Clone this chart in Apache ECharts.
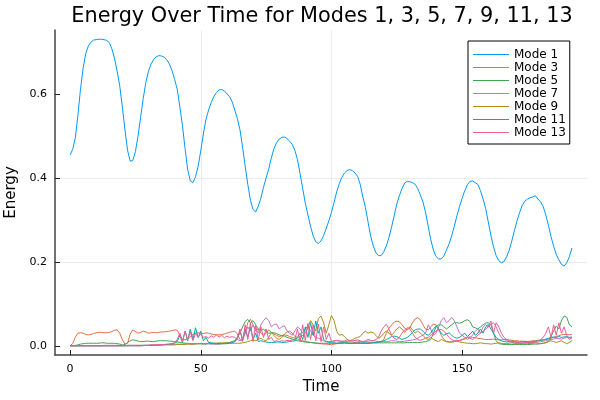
<!DOCTYPE html>
<html>
<head>
<meta charset="utf-8">
<script src="https://cdn.jsdelivr.net/npm/echarts@6/dist/echarts.min.js"></script>
<style>html,body{margin:0;padding:0;background:#fff}#c{width:600px;height:400px}</style>
</head>
<body>
<div id="c"></div>
<script>
const time = [0,1,2,3,4,5,6,7,8,9,10,11,12,13,14,15,16,17,18,19,20,21,22,23,24,25,26,27,28,29,30,31,32,33,34,35,36,37,38,39,40,41,42,43,44,45,46,47,48,49,50,51,52,53,54,55,56,57,58,59,60,61,62,63,64,65,66,67,68,69,70,71,72,73,74,75,76,77,78,79,80,81,82,83,84,85,86,87,88,89,90,91,92,93,94,95,96,97,98,99,100,101,102,103,104,105,106,107,108,109,110,111,112,113,114,115,116,117,118,119,120,121,122,123,124,125,126,127,128,129,130,131,132,133,134,135,136,137,138,139,140,141,142,143,144,145,146,147,148,149,150,151,152,153,154,155,156,157,158,159,160,161,162,163,164,165,166,167,168,169,170,171,172,173,174,175,176,177,178,179,180,181,182,183,184,185,186,187,188,189,190,191,192];

const mode1 = [
.455,.468,.495,.550,.612,.662,.697,.715,.724,.729,
.730,.731,.731,.730,.728,.723,.708,.686,.655,.620,
.570,.515,.466,.440,.442,.463,.500,.545,.590,.628,
.655,.672,.683,.689,.692,.691,.688,.682,.672,.656,
.635,.612,.570,.525,.470,.420,.393,.389,.403,.428,
.465,.505,.540,.562,.580,.594,.604,.610,.611,.608,
.601,.594,.582,.563,.542,.515,.474,.428,.385,.347,
.325,.319,.333,.352,.378,.400,.422,.448,.470,.484,
.493,.497,.498,.494,.488,.480,.466,.444,.410,.375,
.340,.312,.285,.262,.248,.244,.250,.263,.280,.298,
.318,.342,.367,.387,.402,.412,.418,.420,.418,.412,
.404,.385,.355,.330,.295,.262,.238,.222,.215,.215,
.224,.238,.258,.283,.310,.338,.358,.375,.388,.392,
.391,.389,.385,.375,.360,.343,.318,.285,.253,.228,
.213,.207,.207,.214,.228,.243,.262,.285,.310,.332,
.352,.370,.384,.392,.393,.389,.385,.370,.350,.327,
.295,.263,.236,.215,.203,.198,.201,.212,.228,.250,
.275,.298,.318,.335,.345,.350,.353,.355,.358,.350,
.343,.332,.312,.287,.260,.237,.218,.205,.194,.190,
.198,.212,.233];

const mode3 = [
0,.005,.020,.030,.031,.030,.027,.026,.027,.029,
.031,.032,.032,.031,.031,.032,.034,.037,.038,.030,
.015,.004,.006,.028,.038,.034,.030,.032,.035,.033,
.030,.031,.032,.031,.032,.033,.033,.034,.035,.036,
.038,.037,.025,.016,.014,.017,.022,.027,.030,.031,
.030,.029,.031,.030,.028,.027,.026,.026,.027,.028,
.030,.032,.034,.035,.028,.015,.012,.030,.055,.063,
.050,.035,.040,.030,.025,.030,.038,.032,.028,.025,
.022,.024,.026,.025,.022,.020,.018,.016,.014,.012,
.010,.009,.008,.007,.006,.005,.005,.004,.004,.003,
.003,.004,.005,.006,.007,.007,.006,.006,.007,.008,
.008,.007,.006,.006,.007,.008,.008,.007,.008,.010,
.015,.030,.042,.050,.056,.059,.057,.050,.042,.038,
.043,.055,.064,.067,.062,.050,.040,.038,.045,.052,
.050,.040,.025,.015,.010,.009,.010,.011,.012,.013,
.015,.018,.020,.021,.020,.019,.018,.017,.016,.015,
.015,.015,.016,.015,.014,.014,.015,.015,.014,.013,
.012,.012,.011,.011,.010,.010,.011,.012,.012,.013,
.013,.014,.015,.016,.018,.020,.022,.024,.026,.027,
.027,.026,.027];

const mode5 = [
0,0,.001,.002,.004,.005,.006,.006,.006,.006,
.006,.006,.007,.007,.006,.006,.006,.006,.005,.004,
.002,.003,.008,.012,.014,.013,.011,.010,.010,.011,
.011,.010,.010,.011,.012,.012,.012,.012,.011,.011,
.010,.009,.008,.007,.006,.006,.005,.005,.005,.005,
.005,.004,.004,.005,.005,.005,.004,.004,.005,.006,
.007,.008,.010,.012,.020,.030,.045,.058,.063,.055,
.060,.050,.040,.035,.040,.033,.030,.031,.031,.029,
.026,.024,.023,.020,.018,.016,.014,.012,.011,.010,
.009,.008,.008,.007,.007,.006,.006,.006,.006,.006,
.006,.006,.006,.007,.007,.007,.006,.006,.006,.006,
.006,.006,.006,.006,.006,.007,.007,.007,.007,.007,
.007,.007,.007,.007,.007,.007,.007,.007,.007,.008,
.008,.008,.008,.008,.008,.009,.010,.012,.015,.030,
.045,.050,.050,.045,.040,.045,.050,.055,.055,.054,
.056,.060,.062,.058,.045,.043,.040,.045,.050,.054,
.055,.050,.030,.012,.005,.004,.003,.003,.003,.003,
.003,.003,.003,.003,.003,.003,.003,.004,.004,.004,
.005,.006,.007,.010,.022,.035,.047,.040,.060,.071,
.068,.050,.045];

const mode7 = [
0,0,0,0,0,0,0,0,0,0,
0,0,0,.001,.001,.001,.001,.001,.001,.001,
.001,.001,.001,.001,.001,.001,.001,.001,.001,.001,
.001,.002,.002,.002,.002,.002,.003,.003,.003,.003,
.003,.004,.004,.004,.005,.005,.004,.004,.005,.005,
.005,.005,.005,.005,.004,.004,.004,.005,.005,.005,
.006,.006,.008,.010,.015,.012,.018,.030,.045,.035,
.050,.040,.030,.050,.060,.067,.060,.045,.050,.052,
.040,.045,.048,.035,.030,.025,.035,.045,.040,.030,
.040,.048,.035,.025,.020,.018,.015,.012,.010,.010,
.010,.011,.012,.012,.011,.010,.010,.011,.012,.012,
.011,.010,.010,.010,.011,.012,.012,.011,.010,.010,
.010,.010,.011,.012,.012,.011,.010,.010,.011,.012,
.013,.014,.015,.018,.022,.025,.030,.050,.040,.025,
.030,.045,.060,.067,.055,.060,.068,.060,.045,.030,
.025,.020,.015,.020,.025,.035,.040,.030,.045,.050,
.045,.052,.055,.045,.030,.020,.015,.012,.010,.008,
.007,.007,.006,.006,.006,.007,.007,.008,.008,.009,
.010,.011,.012,.014,.015,.016,.018,.017,.016,.018,
.020,.019,.018];

const mode9 = [
0,0,0,0,0,0,0,0,0,0,
0,0,0,0,0,0,0,0,0,0,
0,0,.001,.001,.001,.001,.001,.001,.001,.001,
.001,.001,.001,.001,.002,.002,.002,.002,.002,.002,
.002,.003,.003,.003,.003,.004,.004,.004,.004,.005,
.005,.005,.005,.006,.006,.006,.006,.007,.007,.007,
.007,.007,.006,.006,.006,.006,.007,.008,.010,.012,
.014,.012,.015,.018,.014,.012,.020,.031,.025,.018,
.015,.020,.028,.033,.035,.030,.022,.020,.022,.025,
.030,.045,.060,.050,.035,.065,.071,.055,.030,.050,
.072,.060,.035,.025,.027,.022,.015,.012,.014,.018,
.020,.022,.030,.035,.030,.033,.031,.025,.018,.022,
.030,.035,.030,.025,.032,.040,.045,.040,.032,.040,
.045,.038,.030,.035,.030,.025,.018,.015,.020,.015,
.012,.010,.015,.012,.010,.009,.008,.010,.011,.009,
.008,.007,.006,.006,.005,.005,.006,.007,.006,.005,
.005,.004,.005,.006,.007,.006,.005,.005,.006,.007,
.006,.005,.005,.006,.007,.006,.005,.006,.007,.006,
.005,.006,.008,.010,.012,.010,.008,.010,.012,.008,
.005,.008,.012];

const mode11 = [
0,0,0,0,0,0,0,0,0,0,
0,0,0,0,0,0,0,0,0,0,
0,0,0,0,0,0,0,0,.001,.001,
.001,.001,.001,.001,.002,.002,.003,.003,.004,.005,
.006,.010,.025,.008,.035,.012,.040,.015,.043,.020,
.035,.012,.020,.008,.007,.006,.006,.005,.005,.005,
.005,.006,.007,.010,.020,.035,.015,.040,.020,.045,
.015,.030,.010,.012,.010,.009,.008,.008,.008,.009,
.009,.008,.008,.009,.010,.011,.012,.020,.030,.015,
.045,.020,.055,.025,.059,.030,.045,.015,.010,.008,
.007,.007,.006,.006,.006,.007,.007,.006,.006,.006,
.006,.006,.007,.007,.006,.006,.007,.008,.009,.010,
.012,.015,.018,.022,.023,.022,.018,.015,.017,.020,
.025,.032,.038,.040,.040,.035,.028,.025,.030,.040,
.047,.040,.030,.025,.028,.031,.025,.020,.018,.020,
.025,.030,.022,.028,.035,.025,.030,.040,.030,.045,
.051,.040,.030,.020,.015,.012,.010,.009,.010,.011,
.010,.009,.009,.010,.011,.010,.009,.010,.011,.012,
.013,.014,.016,.018,.020,.021,.020,.022,.020,.021,
.022,.020,.021];

const mode13 = [
0,0,0,0,0,0,0,0,0,0,
0,0,0,0,0,0,0,0,0,0,
0,0,0,0,0,0,0,0,0,.001,
.001,.002,.002,.002,.003,.003,.003,.004,.004,.005,
.008,.015,.030,.010,.035,.015,.033,.012,.030,.020,
.028,.020,.022,.018,.024,.020,.026,.021,.025,.019,
.023,.020,.022,.020,.015,.040,.010,.050,.015,.055,
.010,.050,.015,.045,.020,.040,.015,.020,.010,.012,
.010,.012,.011,.013,.012,.014,.015,.040,.010,.050,
.012,.053,.015,.050,.012,.052,.010,.045,.015,.030,
.010,.012,.013,.011,.010,.012,.014,.012,.011,.013,
.014,.012,.010,.012,.015,.013,.012,.015,.020,.035,
.045,.051,.040,.025,.018,.015,.020,.030,.038,.043,
.040,.030,.020,.015,.013,.015,.018,.020,.025,.030,
.035,.038,.039,.035,.028,.020,.015,.012,.013,.012,
.014,.016,.020,.018,.015,.020,.025,.030,.035,.040,
.045,.059,.030,.055,.045,.030,.020,.015,.012,.010,
.009,.008,.008,.009,.008,.007,.008,.009,.010,.012,
.015,.020,.030,.045,.020,.050,.025,.055,.030,.045,
.025,.015,.020];

const seriesNames = ['Mode 1','Mode 3','Mode 5','Mode 7','Mode 9','Mode 11','Mode 13'];
const seriesValues = [mode1, mode3, mode5, mode7, mode9, mode11, mode13];
const colors = ['#009AFA','#E36F47','#3EA44E','#C371D2','#AC8E18','#00AAAE','#ED5E93'];
const xTicks = [0, 50, 100, 150];
const yTicks = [0, 0.2, 0.4, 0.6];

const FONT = 'DejaVu Sans';
const chart = echarts.init(document.getElementById('c'), null, {renderer: 'canvas'});

const series = seriesNames.map((name, k) => ({
  name: name,
  type: 'line',
  data: time.map((t, i) => [t, seriesValues[k][i]]),
  showSymbol: false,
  symbol: 'none',
  lineStyle: {width: 1, color: colors[k]},
  itemStyle: {color: colors[k]},
  emphasis: {disabled: true},
  silent: true,
  animation: false
}));

chart.setOption({
  animation: false,
  backgroundColor: '#fff',
  title: {
    text: 'Energy Over Time for Modes 1, 3, 5, 7, 9, 11, 13',
    left: 317, top: 1, textAlign: 'center',
    textStyle: {fontFamily: FONT, fontSize: 20.8, fontWeight: 'normal', color: '#000'}
  },
  grid: {left: 55, right: 13, top: 30, bottom: 45, containLabel: false, outerBoundsMode: 'none'},
  legend: {
    orient: 'vertical', left: 468, top: 41,
    icon: 'rect', itemWidth: 36, itemHeight: 1.2, itemGap: 0, itemTextGap: 5,
    padding: [7, 4, 5, 5],
    borderColor: '#000', borderWidth: 1, backgroundColor: '#fff',
    textStyle: {fontFamily: FONT, fontSize: 12, lineHeight: 13, color: '#000'},
    data: seriesNames
  },
  xAxis: {
    type: 'value', min: -5.76, max: 197.76,
    name: 'Time', nameLocation: 'middle', nameGap: 21,
    nameTextStyle: {fontFamily: FONT, fontSize: 15, color: '#000'},
    axisLine: {show: true, onZero: false, lineStyle: {color: '#444', width: 1.5}},
    axisTick: {show: true, inside: true, length: 5, customValues: xTicks, lineStyle: {color: '#222', width: 1}},
    axisLabel: {customValues: xTicks, margin: 9, fontFamily: FONT, fontSize: 11, color: '#000'},
    splitLine: {show: true, showMinLine: false, showMaxLine: false, lineStyle: {color: '#ececec', width: 1}}
  },
  yAxis: {
    type: 'value', min: -0.022, max: 0.753,
    name: 'Energy', nameLocation: 'middle', nameGap: 34, nameRotate: 90,
    nameTextStyle: {fontFamily: FONT, fontSize: 15, color: '#000'},
    axisLine: {show: true, onZero: false, lineStyle: {color: '#444', width: 1.5}},
    axisTick: {show: true, inside: true, length: 5, customValues: yTicks, lineStyle: {color: '#222', width: 1}},
    axisLabel: {customValues: yTicks, margin: 8, fontFamily: FONT, fontSize: 11, color: '#000',
      formatter: v => v.toFixed(1)},
    splitLine: {show: true, showMinLine: false, showMaxLine: false, lineStyle: {color: '#ececec', width: 1}}
  },
  series: series
});
</script>
</body>
</html>
